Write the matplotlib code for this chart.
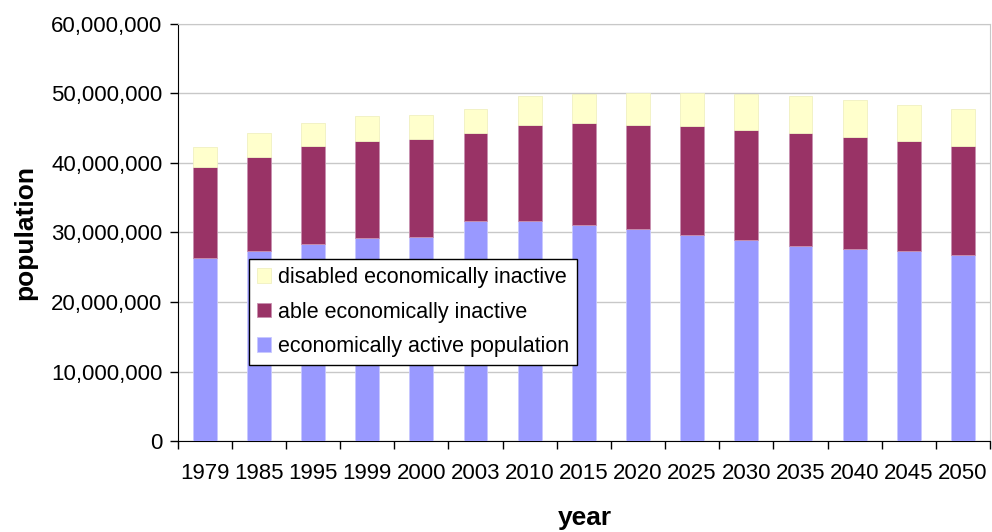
import numpy as np
import matplotlib.pyplot as plt
from matplotlib.ticker import FuncFormatter, MultipleLocator

years = ["1979", "1985", "1995", "1999", "2000", "2003", "2010", "2015",
         "2020", "2025", "2030", "2035", "2040", "2045", "2050"]

# values in millions
active = [26.3, 27.4, 28.4, 29.2, 29.4, 31.6, 31.6, 31.1,
          30.5, 29.6, 28.9, 28.1, 27.6, 27.4, 26.7]
able_inactive = [13.1, 13.5, 14.0, 13.9, 14.0, 12.7, 13.9, 14.7,
                 15.0, 15.7, 15.9, 16.2, 16.2, 15.7, 15.7]
disabled_inactive = [2.9, 3.4, 3.3, 3.6, 3.5, 3.4, 4.1, 4.1,
                     4.6, 4.8, 5.1, 5.3, 5.3, 5.3, 5.3]

plt.rcParams.update({
    "font.family": ["Liberation Sans", "DejaVu Sans"],
    "font.size": 16,
})

active = np.array(active) * 1e6
able_inactive = np.array(able_inactive) * 1e6
disabled_inactive = np.array(disabled_inactive) * 1e6

fig = plt.figure(figsize=(9.92, 5.32), dpi=100)
ax = fig.add_axes([0.179, 0.171, 0.819, 0.784])

x = np.arange(len(years))
w = 0.44
ax.bar(x, active, w, color="#9999FF", edgecolor="#c8c8ff", linewidth=0.6,
       label="economically active population", zorder=3)
ax.bar(x, able_inactive, w, bottom=active, color="#993366", edgecolor="#c890b0",
       linewidth=0.6, label="able economically inactive", zorder=3)
ax.bar(x, disabled_inactive, w, bottom=active + able_inactive, color="#FFFFCC",
       edgecolor="#f0f0c0", linewidth=0.6, label="disabled economically inactive",
       zorder=3)

ax.set_xlim(-0.5, len(years) - 0.5)
ax.set_ylim(0, 60e6)
ax.yaxis.set_major_locator(MultipleLocator(10e6))
ax.yaxis.set_major_formatter(FuncFormatter(lambda v, p: f"{v:,.0f}"))
ax.grid(axis="y", color="#c8c8c8", linewidth=1.0, zorder=0)

# tick marks between categories, labels at centres
ax.set_xticks(np.arange(-0.5, len(years), 1.0))
ax.set_xticklabels([])
ax.set_xticks(x, minor=True)
ax.set_xticklabels(years, minor=True)
ax.tick_params(axis="x", which="major", length=6, width=1, direction="out")
ax.tick_params(axis="x", which="minor", length=0, pad=16)
ax.tick_params(axis="y", length=6, width=1, direction="out", pad=5)

for s in ["top", "right"]:
    ax.spines[s].set_color("#c8c8c8")
for s in ["left", "bottom"]:
    ax.spines[s].set_color("black")

# axis titles
fig.text(0.590, 0.026, "year", fontsize=19, fontweight="bold",
         ha="center", va="center")
ax.set_ylabel("population", fontsize=19, fontweight="bold", labelpad=10)

h, l = ax.get_legend_handles_labels()
leg = ax.legend(h[::-1], l[::-1], loc="lower left", bbox_to_anchor=(0.088, 0.182),
                fontsize=15.5, frameon=True, fancybox=False, edgecolor="black",
                framealpha=1, handlelength=0.65, handleheight=0.65,
                handletextpad=0.3, borderpad=0.38, labelspacing=0.62,
                borderaxespad=0)
leg.get_frame().set_linewidth(1.0)

fig.savefig("out.png", dpi=100)
